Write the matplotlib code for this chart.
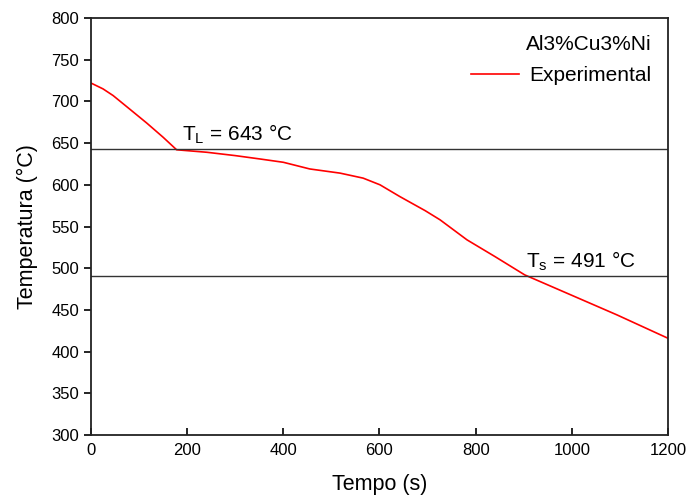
import numpy as np
import matplotlib.pyplot as plt

plt.rcParams['font.family'] = ['Liberation Sans', 'DejaVu Sans']
plt.rcParams['mathtext.fontset'] = 'custom'
plt.rcParams['mathtext.rm'] = 'Liberation Sans'

# cooling curve
tempo = [0, 25, 46, 80, 116, 150, 178, 241, 300, 351, 400, 455, 518, 566, 601, 642,
         670, 695, 726, 782, 840, 902, 990, 1094, 1200]
temperatura = [722, 715, 707, 691, 674, 657, 642, 639, 635, 631, 627, 619, 614, 608, 600, 586,
               577, 569, 558, 534, 514, 492, 470, 444, 416]

t_liquidus = 643
t_solidus = 491

fig = plt.figure(figsize=(6.92, 4.97), dpi=100)
ax = fig.add_axes([0.1315, 0.1247, 0.8338, 0.8391])

ax.plot(tempo, temperatura, color='red', lw=1.2, label='Experimental')
ax.axhline(t_liquidus, color='#333333', lw=1)
ax.axhline(t_solidus, color='#333333', lw=1)

ax.text(189, t_liquidus + 3, r'T$_{\rm L}$ = %d °C' % t_liquidus, fontsize=15, va='bottom')
ax.text(904, t_solidus + 3, r'T$_{\rm s}$ = %d °C' % t_solidus, fontsize=15, va='bottom')

ax.set_xlim(0, 1200)
ax.set_ylim(300, 800)
ax.set_xticks(np.arange(0, 1201, 200))
ax.set_yticks(np.arange(300, 801, 50))
ax.tick_params(axis='x', direction='in', length=5, width=1.2, labelsize=12, pad=6, top=False)
ax.tick_params(axis='y', direction='out', length=5, width=1.2, labelsize=12, right=False)
for s in ax.spines.values():
    s.set_linewidth(1.3)
    s.set_color('#222222')

ax.set_xlabel('Tempo (s)', fontsize=15.5, labelpad=11)
ax.set_ylabel('Temperatura (°C)', fontsize=15.5, labelpad=10)

leg = ax.legend(title='Al3%Cu3%Ni', loc='upper right', frameon=False, fontsize=15,
                title_fontsize=15, handlelength=2.3, handletextpad=0.5,
                borderaxespad=0.4, labelspacing=0.3)
leg._legend_box.align = 'right'
leg._legend_box.sep = 9

fig.savefig('out.png', dpi=100)
